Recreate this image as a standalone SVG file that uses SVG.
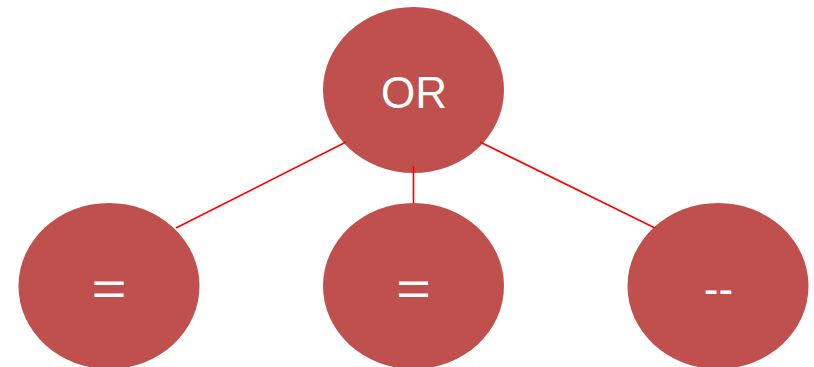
<svg xmlns="http://www.w3.org/2000/svg" width="814" height="367" viewBox="0 0 814 367">
  <style>
    .node { fill: #C0504D; }
    .label { fill: #FFFFFF; font-family: "Liberation Sans", Arial, sans-serif; font-size: 44px; text-anchor: middle; }
    .eq { font-size: 48px; }
    .edge { stroke: #FF0000; stroke-width: 1.6; fill: none; }
  </style>
  <rect width="814" height="367" fill="#FFFFFF"/>
  <g id="n-or">
    <ellipse class="node" cx="413.5" cy="90" rx="90.5" ry="83"/>
  </g>
  <g id="n-eq1">
    <ellipse class="node" cx="109" cy="286" rx="90.5" ry="83"/>
    <text class="label eq" transform="translate(109 305) scale(1.25 1)">=</text>
  </g>
  <g id="n-eq2">
    <ellipse class="node" cx="413.5" cy="286" rx="90.5" ry="83"/>
    <text class="label eq" transform="translate(413.5 305) scale(1.25 1)">=</text>
  </g>
  <g id="n-dash">
    <ellipse class="node" cx="718" cy="286" rx="90.5" ry="83"/>
    <text class="label" x="718.5" y="304">--</text>
  </g>
  <g id="edges">
    <line class="edge" x1="346" y1="142" x2="176" y2="228"/>
    <line class="edge" x1="413.5" y1="166" x2="413.5" y2="203"/>
    <line class="edge" x1="480" y1="142" x2="655" y2="228"/>
  </g>
  <text class="label" x="414" y="108">OR</text>
</svg>
